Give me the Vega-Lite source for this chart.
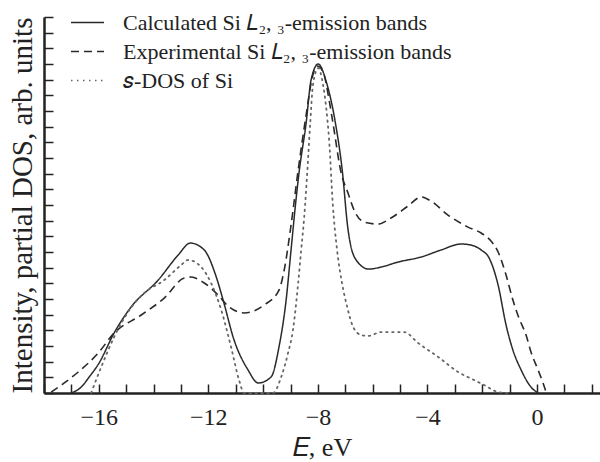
{
  "$schema": "https://vega.github.io/schema/vega-lite/v6.json",
  "width": 556,
  "height": 376,
  "autosize": {"type": "none"},
  "padding": {"left": 44, "top": 17, "right": 0, "bottom": 69},
  "background": "white",
  "config": {"view": {"stroke": null}, "font": "Liberation Serif"},
  "datasets": {
    "calc": [
      {"E": -17.01, "I": 0}, {"E": -16.64, "I": 0.38}, {"E": -16.35, "I": 1.02}, {"E": -15.99, "I": 1.91},
      {"E": -15.44, "I": 3.83}, {"E": -14.82, "I": 5.49}, {"E": -13.83, "I": 7.21}, {"E": -13.10, "I": 8.81},
      {"E": -12.66, "I": 9.57}, {"E": -12.15, "I": 9.13}, {"E": -11.71, "I": 7.40}, {"E": -11.46, "I": 5.93},
      {"E": -11.06, "I": 3.38}, {"E": -10.55, "I": 1.47}, {"E": -10.18, "I": 0.64}, {"E": -9.71, "I": 1.02},
      {"E": -9.42, "I": 2.94}, {"E": -9.16, "I": 5.93}, {"E": -8.98, "I": 9.13}, {"E": -8.80, "I": 12.32},
      {"E": -8.69, "I": 14.04}, {"E": -8.43, "I": 17.23}, {"E": -8.25, "I": 19.97}, {"E": -7.99, "I": 21.0},
      {"E": -7.68, "I": 19.78}, {"E": -7.36, "I": 17.23}, {"E": -7.10, "I": 14.04}, {"E": -6.92, "I": 10.72},
      {"E": -6.65, "I": 8.62}, {"E": -6.15, "I": 7.91}, {"E": -5.69, "I": 8.04}, {"E": -5.07, "I": 8.36},
      {"E": -4.23, "I": 8.68}, {"E": -3.50, "I": 9.13}, {"E": -2.77, "I": 9.51}, {"E": -2.41, "I": 9.44},
      {"E": -2.04, "I": 9.13}, {"E": -1.75, "I": 8.62}, {"E": -1.42, "I": 6.89}, {"E": -1.13, "I": 4.34},
      {"E": -0.88, "I": 2.74}, {"E": -0.58, "I": 1.47}, {"E": -0.22, "I": 0.38}, {"E": 0.04, "I": 0}
    ],
    "exp": [
      {"E": -17.74, "I": 0.06}, {"E": -17.26, "I": 0.64}, {"E": -16.75, "I": 1.34}, {"E": -16.02, "I": 2.55},
      {"E": -15.44, "I": 3.83}, {"E": -14.45, "I": 4.98}, {"E": -13.61, "I": 6.06}, {"E": -12.88, "I": 7.34},
      {"E": -12.63, "I": 7.40}, {"E": -12.15, "I": 7.02}, {"E": -11.64, "I": 6.25}, {"E": -11.28, "I": 5.55},
      {"E": -10.69, "I": 5.11}, {"E": -9.96, "I": 5.62}, {"E": -9.42, "I": 6.57}, {"E": -9.23, "I": 7.85},
      {"E": -8.98, "I": 10.72}, {"E": -8.72, "I": 14.23}, {"E": -8.43, "I": 17.74}, {"E": -8.21, "I": 20.10},
      {"E": -8.03, "I": 20.87}, {"E": -7.81, "I": 20.49}, {"E": -7.59, "I": 18.70}, {"E": -7.45, "I": 17.23},
      {"E": -7.15, "I": 14.04}, {"E": -6.90, "I": 12.76}, {"E": -6.68, "I": 11.68}, {"E": -6.31, "I": 10.91},
      {"E": -5.80, "I": 10.78}, {"E": -5.33, "I": 11.17}, {"E": -4.71, "I": 11.93}, {"E": -4.23, "I": 12.51},
      {"E": -3.87, "I": 12.25}, {"E": -3.25, "I": 11.36}, {"E": -2.52, "I": 10.59}, {"E": -2.04, "I": 10.21},
      {"E": -1.68, "I": 9.70}, {"E": -1.42, "I": 9.00}, {"E": -1.13, "I": 7.53}, {"E": -0.88, "I": 5.93},
      {"E": -0.66, "I": 4.79}, {"E": -0.40, "I": 3.70}, {"E": -0.22, "I": 2.62}, {"E": 0.04, "I": 1.47},
      {"E": 0.22, "I": 0.64}, {"E": 0.33, "I": 0.06}
    ],
    "sdos": [
      {"E": -16.28, "I": 0}, {"E": -15.91, "I": 1.66}, {"E": -15.44, "I": 3.57}, {"E": -14.93, "I": 5.17},
      {"E": -14.34, "I": 6.38}, {"E": -13.61, "I": 7.21}, {"E": -12.99, "I": 8.17}, {"E": -12.74, "I": 8.49},
      {"E": -12.26, "I": 8.04}, {"E": -11.90, "I": 7.02}, {"E": -11.53, "I": 5.30}, {"E": -11.17, "I": 2.94},
      {"E": -10.88, "I": 0.83}, {"E": -10.69, "I": 0}, {"E": -9.64, "I": 0}, {"E": -9.34, "I": 1.02},
      {"E": -9.09, "I": 2.55}, {"E": -8.91, "I": 4.02}, {"E": -8.72, "I": 7.02}, {"E": -8.61, "I": 9.13},
      {"E": -8.50, "I": 11.23}, {"E": -8.39, "I": 14.04}, {"E": -8.28, "I": 17.23}, {"E": -8.18, "I": 19.66},
      {"E": -7.99, "I": 20.74}, {"E": -7.81, "I": 19.66}, {"E": -7.70, "I": 18.25}, {"E": -7.59, "I": 16.15},
      {"E": -7.45, "I": 11.9}, {"E": -7.30, "I": 9.13}, {"E": -7.12, "I": 7.02}, {"E": -6.93, "I": 5.49},
      {"E": -6.71, "I": 4.21}, {"E": -6.42, "I": 3.70}, {"E": -6.17, "I": 3.64}, {"E": -5.69, "I": 3.89},
      {"E": -4.85, "I": 3.89}, {"E": -4.34, "I": 3.19}, {"E": -3.61, "I": 2.30}, {"E": -2.88, "I": 1.34},
      {"E": -2.30, "I": 0.83}, {"E": -1.93, "I": 0.51}, {"E": -1.42, "I": 0.06}, {"E": -1.06, "I": 0}
    ]
  },
  "layer": [
    {
      "data": {"name": "calc"},
      "transform": [{"calculate": "'Calculated Si 𝐿₂, ₃-emission bands'", "as": "series"}],
      "mark": {"type": "line", "strokeWidth": 1.5, "interpolate": "monotone"},
      "encoding": {
        "x": {"field": "E", "type": "quantitative"},
        "y": {"field": "I", "type": "quantitative"},
        "color": {"field": "series", "type": "nominal"},
        "strokeDash": {"field": "series", "type": "nominal"}
      }
    },
    {
      "data": {"name": "exp"},
      "transform": [{"calculate": "'Experimental Si 𝐿₂, ₃-emission bands'", "as": "series"}],
      "mark": {"type": "line", "strokeWidth": 1.6, "interpolate": "monotone"},
      "encoding": {
        "x": {"field": "E", "type": "quantitative"},
        "y": {"field": "I", "type": "quantitative"},
        "color": {"field": "series", "type": "nominal"},
        "strokeDash": {"field": "series", "type": "nominal"}
      }
    },
    {
      "data": {"name": "sdos"},
      "transform": [{"calculate": "'𝑠-DOS of Si'", "as": "series"}],
      "mark": {"type": "line", "strokeWidth": 1.8, "interpolate": "monotone", "strokeCap": "round"},
      "encoding": {
        "x": {"field": "E", "type": "quantitative"},
        "y": {"field": "I", "type": "quantitative"},
        "color": {"field": "series", "type": "nominal"},
        "strokeDash": {"field": "series", "type": "nominal"}
      }
    }
  ],
  "encoding": {
    "x": {
      "field": "E", "type": "quantitative",
      "scale": {"domain": [-18, 2.3], "nice": false, "zero": false},
      "axis": {
        "title": "𝐸, eV", "titleFont": "Liberation Serif", "titleFontSize": 26, "titleFontWeight": "normal", "titleColor": "#222",
        "titlePadding": 5,
        "values": [-18, -17, -16, -15, -14, -13, -12, -11, -10, -9, -8, -7, -6, -5, -4, -3, -2, -1, 0, 1, 2],
        "labelExpr": "datum.value % 4 === 0 && datum.value !== 0 ? replace(format(datum.value, 'd'), '-', '−') : (datum.value === 0 ? '0' : '')",
        "labelFont": "Liberation Serif", "labelFontSize": 24, "labelColor": "#222", "labelPadding": 21,
        "tickSize": -9, "tickColor": "#222", "tickWidth": 1.5, "domainColor": "#222", "domainWidth": 2.5,
        "grid": false, "labelFlush": false, "labelOverlap": false
      }
    },
    "y": {
      "field": "I", "type": "quantitative",
      "scale": {"domain": [0, 24], "nice": false},
      "axis": {
        "title": "Intensity, partial DOS, arb. units", "titleFont": "Liberation Serif", "titleFontSize": 29,
        "titleFontWeight": "normal", "titleColor": "#222", "titlePadding": 6,
        "values": [0,1,2,3,4,5,6,7,8,9,10,11,12,13,14,15,16,17,18,19,20,21,22,23,24],
        "labels": false, "tickSize": -9, "tickColor": "#222", "tickWidth": 1.5,
        "domainColor": "#222", "domainWidth": 2.5, "grid": false
      }
    },
    "color": {
      "field": "series", "type": "nominal",
      "scale": {
        "domain": ["Calculated Si 𝐿₂, ₃-emission bands", "Experimental Si 𝐿₂, ₃-emission bands", "𝑠-DOS of Si"],
        "range": ["#2a2a2a", "#2a2a2a", "#666666"]
      },
      "legend": {
        "title": null, "orient": "none", "legendX": 26, "legendY": -12,
        "symbolType": "stroke", "symbolSize": 1089, "symbolStrokeWidth": 1.6,
        "labelFont": "Liberation Serif", "labelFontSize": 22, "labelColor": "#222", "labelOffset": 18,
        "rowPadding": -20, "labelLimit": 600
      }
    },
    "strokeDash": {
      "field": "series", "type": "nominal",
      "scale": {
        "domain": ["Calculated Si 𝐿₂, ₃-emission bands", "Experimental Si 𝐿₂, ₃-emission bands", "𝑠-DOS of Si"],
        "range": [[1, 0], [8, 5], [1.5, 4.5]]
      }
    }
  }
}
